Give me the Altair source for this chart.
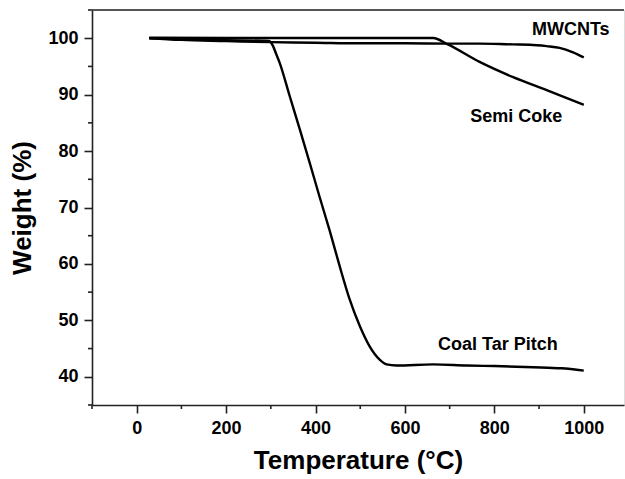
import altair as alt
import pandas as pd

# Data
ctp_t = [28, 100, 200, 280, 296, 305, 312, 320, 342, 365, 387, 409, 432, 454, 476, 499, 521, 544, 559, 581, 663, 738, 800, 887, 950, 1000]
ctp_w = [100, 99.8, 99.65, 99.55, 99.5, 98.6, 97.2, 95.6, 89.8, 83.8, 77.9, 71.9, 65.8, 59.6, 53.8, 49.0, 45.4, 43.0, 42.2, 42.0, 42.2, 42.0, 41.9, 41.7, 41.5, 41.1]

mw_t = [28, 100, 200, 300, 400, 500, 600, 700, 767, 842, 879, 917, 946, 976, 1000]
mw_w = [100, 99.7, 99.5, 99.3, 99.2, 99.1, 99.1, 99.05, 99.05, 98.9, 98.85, 98.6, 98.3, 97.5, 96.6]

sc_t = [28, 200, 400, 600, 663, 696, 767, 842, 917, 1000]
sc_w = [100.1, 100.05, 100.05, 100.05, 100.05, 98.9, 95.8, 93.1, 90.8, 88.2]

label_text = ["MWCNTs", "Semi Coke", "Coal Tar Pitch"]
label_t = [971, 849, 808]
label_w = [101.5, 86.0, 45.7]

x_major = [0, 200, 400, 600, 800, 1000]
x_minor = [-100, 100, 300, 500, 700, 900]
y_major = [40, 50, 60, 70, 80, 90, 100]
y_minor = [35, 45, 55, 65, 75, 85, 95, 105]

rows = []
for name, ts, ws in [("Coal Tar Pitch", ctp_t, ctp_w), ("MWCNTs", mw_t, mw_w), ("Semi Coke", sc_t, sc_w)]:
    for t, w in zip(ts, ws):
        rows.append({"series": name, "T": t, "W": w})
df = pd.DataFrame(rows)
lab = pd.DataFrame({"text": label_text, "T": label_t, "W": label_w})
xmin_df = pd.DataFrame({"T": x_minor})
ymin_df = pd.DataFrame({"W": y_minor})

FONT = "Liberation Sans"
W_PX, H_PX = 532, 395
AX = "#222222"

xscale = alt.Scale(domain=[-100, 1090], nice=False, zero=False)
yscale = alt.Scale(domain=[35, 105], nice=False, zero=False)

xaxis = alt.Axis(
    values=x_major,
    title="Temperature (°C)",
    grid=False,
    labelOverlap=False,
    tickSize=8,
    labelFont=FONT, labelFontSize=18, labelFontWeight="bold", labelColor="black",
    titleFont=FONT, titleFontSize=26, titleFontWeight="bold", titleColor="black",
    labelPadding=6, titlePadding=10,
    domainColor=AX, domainWidth=1.6, tickColor=AX, tickWidth=1.6,
    format="d",
)
yaxis = alt.Axis(
    values=y_major,
    title="Weight (%)",
    grid=False,
    labelOverlap=False,
    tickSize=8,
    labelFont=FONT, labelFontSize=18, labelFontWeight="bold", labelColor="black",
    titleFont=FONT, titleFontSize=26, titleFontWeight="bold", titleColor="black",
    labelPadding=6, titlePadding=12,
    domainColor=AX, domainWidth=1.6, tickColor=AX, tickWidth=1.6,
    format="d",
)

lines = alt.Chart(df).mark_line(color="black", strokeWidth=2.4, interpolate="monotone").encode(
    x=alt.X("T:Q", scale=xscale, axis=xaxis),
    y=alt.Y("W:Q", scale=yscale, axis=yaxis),
    detail="series:N",
)

texts = alt.Chart(lab).mark_text(font=FONT, fontSize=18, fontWeight="bold", color="black",
                                 align="center", baseline="middle").encode(
    x=alt.X("T:Q", scale=xscale),
    y=alt.Y("W:Q", scale=yscale),
    text="text:N",
)

x_minor_ticks = alt.Chart(xmin_df).mark_rule(color=AX, strokeWidth=1.6, clip=False).encode(
    x=alt.X("T:Q", scale=xscale),
    y=alt.value(H_PX),
    y2=alt.value(H_PX + 4),
)
y_minor_ticks = alt.Chart(ymin_df).mark_rule(color=AX, strokeWidth=1.6, clip=False).encode(
    y=alt.Y("W:Q", scale=yscale),
    x=alt.value(-4),
    x2=alt.value(0),
)

top_border = alt.Chart(pd.DataFrame({"a": [0]})).mark_rule(color=AX, strokeWidth=1.6).encode(
    x=alt.value(0), x2=alt.value(W_PX), y=alt.value(0)
)

chart = alt.layer(lines, texts, x_minor_ticks, y_minor_ticks, top_border).properties(
    width=W_PX, height=H_PX,
    padding={"left": 92, "top": 10, "right": 1, "bottom": 74},
    autosize=alt.AutoSizeParams(type="none"),
).configure_view(stroke=None).configure(background="white")

chart.save("out.html", embed_options={"renderer": "svg", "actions": False})
